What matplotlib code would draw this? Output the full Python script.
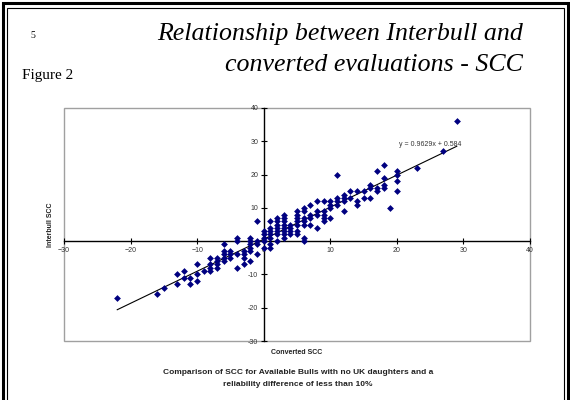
import numpy as np
import matplotlib
matplotlib.use("Agg")
import matplotlib.pyplot as plt
from matplotlib.patches import Rectangle
from matplotlib.ticker import FuncFormatter

# converted SCC (x) and Interbull SCC (y) for each bull
converted = [-22, -16, -15, -13, -13, -12, -12, -11, -11, -10, -10, -10, -9,
             -8, -8, -8, -8, -7, -7, -7, -7, -6, -6, -6, -6, -6, -5, -5, -5,
             -4, -4, -4, -4, -3, -3, -3, -3, -2, -2, -2, -2, -2, -2,
             -1, -1, -1, -1, 0, 0, 0, 0, 0,
             1, 1, 1, 1, 1, 1, 1, 2, 2, 2, 2, 2, 2, 2,
             3, 3, 3, 3, 3, 3, 3, 3, 4, 4, 4, 4,
             5, 5, 5, 5, 5, 5, 5, 6, 6, 6, 6, 6, 6, 6,
             7, 7, 7, 7, 8, 8, 8, 8, 9, 9, 9, 9, 9, 10, 10, 10, 10,
             11, 11, 11, 11, 12, 12, 12, 12, 13, 13, 14, 14, 14, 15, 15,
             16, 16, 16, 17, 17, 17, 18, 18, 18, 18, 19, 20, 20, 20, 20,
             23, 27, 29]
interbull = [-17, -16, -14, -10, -13, -9, -11, -11, -13, -7, -10, -12, -9,
             -5, -7, -8, -9, -5, -6, -7, -8, -1, -3, -4, -5, -6, -3, -4, -5,
             1, 0, -4, -8, -3, -4, -5, -7, 1, 0, -1, -2, -3, -6,
             6, 0, -1, -4, 3, 2, 1, 0, -2,
             6, 4, 3, 2, 1, -1, -2, 7, 6, 5, 4, 3, 2, 0,
             8, 7, 6, 5, 4, 3, 2, 1, 5, 4, 3, 2,
             9, 8, 7, 6, 5, 3, 2, 10, 9, 7, 6, 5, 1, 0,
             11, 8, 7, 5, 12, 9, 8, 4, 12, 9, 8, 7, 6, 12, 11, 10, 7,
             20, 13, 12, 11, 14, 13, 12, 9, 15, 13, 15, 12, 11, 15, 13,
             17, 16, 13, 21, 16, 15, 23, 19, 17, 16, 10, 21, 20, 18, 15,
             22, 27, 36]

slope = 0.9629
intercept = 0.584
ticks = [-30, -20, -10, 0, 10, 20, 30, 40]

sans = "Liberation Sans"
serif = "Liberation Serif"

fig = plt.figure(figsize=(5.7, 4.0), dpi=100)
W, H = 570, 400

# double frame round the slide
fig.patches.append(Rectangle((2.5 / W, -0.05), 1 - 5 / W, 1.05 - 2.5 / H, transform=fig.transFigure,
                             fill=False, edgecolor="black", linewidth=2.2))
fig.patches.append(Rectangle((6.5 / W, -0.05), 1 - 13 / W, 1.05 - 7.5 / H, transform=fig.transFigure,
                             fill=False, edgecolor="black", linewidth=0.8))

fig.text(30 / W, 1 - 36 / H, "5", family=serif, fontsize=7, ha="left", va="center")
fig.text(22 / W, 1 - 75 / H, "Figure 2", family=serif, fontsize=11, ha="left", va="center")
fig.text(523 / W, 1 - 34 / H, "Relationship between Interbull and", family=serif,
         style="italic", fontsize=18.6, ha="right", va="center")
fig.text(523 / W, 1 - 65 / H, "converted evaluations - SCC", family=serif,
         style="italic", fontsize=18.6, ha="right", va="center")

ax = fig.add_axes([64 / W, 1 - 341 / H, 466 / W, 233 / H])
ax.scatter(converted, interbull, marker="D", s=12, color="#000080", zorder=3, linewidths=0)

xs = np.array([min(converted), max(converted)])
ax.plot(xs, slope * xs + intercept, color="black", linewidth=0.8, zorder=2)
ax.text(25, 29, "y = 0.9629x + 0.584", family=sans, fontsize=5, color="#333333",
        ha="center", va="center")

ax.set_xlim(-30, 40)
ax.set_ylim(-30, 40)
ax.set_xticks(ticks)
ax.set_yticks(ticks)
ax.yaxis.set_major_formatter(FuncFormatter(lambda v, p: "" if v == 0 else "%d" % v))

ax.spines["left"].set_position(("data", 0))
ax.spines["bottom"].set_position(("data", 0))
ax.spines["top"].set_visible(False)
ax.spines["right"].set_visible(False)
for s in ["left", "bottom"]:
    ax.spines[s].set_linewidth(1.0)
ax.tick_params(direction="inout", length=4, width=0.8, labelsize=5, labelcolor="#333333", pad=2)
for lab in ax.get_xticklabels() + ax.get_yticklabels():
    lab.set_family(sans)

ax.add_patch(Rectangle((0, 0), 1, 1, transform=ax.transAxes, fill=False,
                       edgecolor="#a0a0a0", linewidth=1.0, clip_on=False, zorder=1))

fig.text(50 / W, 1 - 225 / H, "Interbull SCC", family=sans, fontsize=5, fontweight="bold",
         rotation=90, ha="center", va="center", color="#222222")
fig.text(297 / W, 1 - 353 / H, "Converted SCC", family=sans, fontsize=5, fontweight="bold",
         ha="center", va="center", color="#222222")
fig.text(298 / W, 1 - 372 / H, "Comparison of SCC for Available Bulls with no UK daughters and a",
         family=sans, fontsize=6, fontweight="bold", ha="center", va="center", color="#222222")
fig.text(298 / W, 1 - 384 / H, "reliability difference of less than 10%",
         family=sans, fontsize=6, fontweight="bold", ha="center", va="center", color="#222222")

fig.savefig("out.png", dpi=100)
